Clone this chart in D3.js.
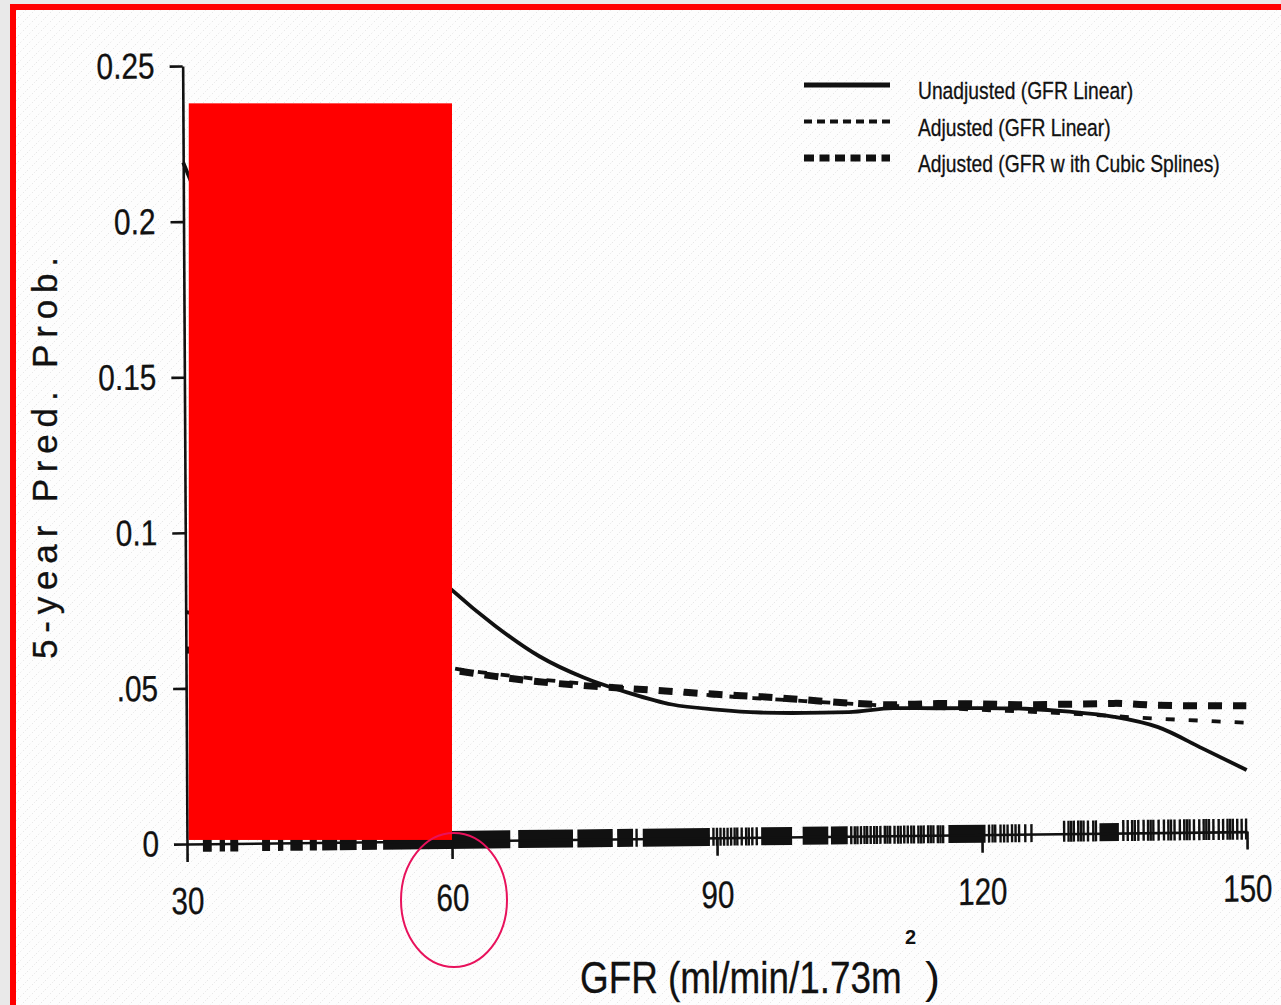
<!doctype html>
<html>
<head>
  <meta charset='utf-8'>
  <style>
    body { margin: 0; background: #e9e9e9; }
    svg { display: block; }
    text { font-family: 'Liberation Sans', Arial, sans-serif; }
  </style>
</head>
<body>
  <svg width='1281' height='1005'></svg>
  <script src='https://d3js.org/d3.v7.min.js'></script>
  <script>
    // values
    var gfr = [30, 35, 40, 45, 50, 55, 60, 65, 70, 75, 80, 85, 90, 95, 100,
               105, 110, 115, 120, 125, 130, 135, 140, 145, 150];
    var unadjusted = [0.219, 0.185, 0.156, 0.132, 0.112, 0.095, 0.081, 0.069, 0.059,
                      0.052, 0.047, 0.043, 0.0412, 0.0401, 0.0398, 0.0399, 0.041,
                      0.0408, 0.0407, 0.0403, 0.0392, 0.0374, 0.0339, 0.0269, 0.0198];
    var adjustedLinear = [0.0746, 0.0713, 0.0683, 0.0655, 0.0628, 0.0603, 0.0556, 0.0535,
                          0.0516, 0.050, 0.0484, 0.047, 0.0457, 0.0446, 0.0436, 0.0426,
                          0.0417, 0.0409, 0.0401, 0.0394, 0.0386, 0.0376, 0.0366, 0.0358, 0.035];
    var adjustedSpline = [0.0623, 0.0618, 0.061, 0.060, 0.0585, 0.0568, 0.0549, 0.0527,
                          0.0508, 0.0494, 0.0483, 0.0472, 0.0461, 0.0452, 0.044, 0.0428,
                          0.0421, 0.0423, 0.042, 0.0416, 0.0416, 0.0417, 0.0409, 0.0406, 0.0404];
    var seriesNames = ['Unadjusted (GFR Linear)', 'Adjusted (GFR Linear)',
                       'Adjusted (GFR w ith Cubic Splines)'];

    var xTicks = [30, 60, 90, 120, 150];
    var yTicks = [0, 0.05, 0.1, 0.15, 0.2, 0.25];
    var yTickLabels = ['0', '.05', '0.1', '0.15', '0.2', '0.25'];

    // rug of observed GFR values: solid runs and single marks
    var rugBlocks = [[31.8, 32.8], [33.7, 34.3], [34.9, 35.8], [38.5, 39.4], [40.3, 40.9],
                     [41.7, 43.1], [43.9, 44.7], [45.3, 47.0], [47.3, 49.2], [49.8, 51.5],
                     [52.2, 66.6], [67.5, 73.7], [74.2, 78.2], [78.7, 80.5], [81.6, 89.2],
                     [95.0, 98.5], [99.7, 102.6], [102.9, 104.8], [116.2, 120.4], [133.3, 135.5]];
    var rugTicks = [80.9, 89.6, 90.0, 90.4, 90.8, 91.2, 91.6, 92.0, 92.3, 92.8, 93.3, 93.6,
                    94.0, 94.5, 105.2, 105.6, 105.9, 106.3, 106.7, 107.0, 107.4, 107.8, 108.1,
                    108.5, 109.0, 109.3, 109.6, 110.1, 110.5, 110.8, 111.2, 111.6, 112.0,
                    112.3, 112.8, 113.1, 113.4, 113.9, 114.2, 114.5, 115.0, 115.3, 115.6,
                    120.8, 121.2, 121.5, 122.1, 122.5, 122.9, 123.4, 123.8, 124.2, 124.9, 125.6,
                    129.3, 129.8, 130.1, 130.4, 130.9, 131.2, 131.5, 132.0, 132.6, 132.9,
                    136.0, 136.5, 137.0, 137.3, 137.7, 138.3, 138.8, 139.1, 139.4, 140.0,
                    140.6, 141.1, 141.4, 141.8, 142.4, 142.9, 143.2, 143.5, 144.0, 144.6,
                    145.1, 145.4, 145.7, 146.2, 146.8, 147.3, 147.8, 148.1, 148.4, 148.9,
                    149.4, 149.9];

    // red box pasted over the low GFR part (gfr range, prob range)
    var maskGfr = [30.2, 60];
    var maskProb = [0.0013, 0.238];

    var svg = d3.select('svg');
    var width = +svg.attr('width');
    var height = +svg.attr('height');

    var x = d3.scaleLinear().domain([30, 150]).range([187, 1247]);
    var y = d3.scaleLinear().domain([0, 0.25]).range([844, 66]);

    // squeeze text horizontally to get the condensed look of the scan
    function narrow(sel, f) {
      sel.each(function() {
        var t = d3.select(this);
        var xa = +t.attr('x') || 0;
        t.attr('x', xa / f).attr('transform', 'scale(' + f + ',1)');
      });
    }

    // page frame
    var defs = svg.append('defs');
    var pat = defs.append('pattern')
      .attr('id', 'paper')
      .attr('width', 9).attr('height', 9)
      .attr('patternUnits', 'userSpaceOnUse');
    pat.append('rect').attr('width', 9).attr('height', 9).attr('fill', '#fdfdfd');
    pat.append('path')
      .attr('d', 'M0,9L9,0')
      .attr('stroke', '#d4d4d4')
      .attr('stroke-width', 0.8)
      .attr('stroke-dasharray', '1,2.5');

    svg.append('rect')
      .attr('x', 16).attr('y', 10)
      .attr('width', width - 16).attr('height', height - 10)
      .attr('fill', 'url(#paper)');
    svg.append('rect')
      .attr('x', 10).attr('y', 4)
      .attr('width', 6).attr('height', height - 4)
      .attr('fill', '#ff0000');
    svg.append('rect')
      .attr('x', 10).attr('y', 4)
      .attr('width', width - 10).attr('height', 6)
      .attr('fill', '#ff0000');

    // the scan is slightly skewed
    var ox = x(30), oy = y(0);
    var g = svg.append('g')
      .attr('transform', 'translate(' + ox + ',' + oy + ') matrix(1,-0.0117,0.0056,1,0,0) translate(' + (-ox) + ',' + (-oy) + ')');

    // rug
    var rug = g.append('g').attr('fill', '#111').attr('stroke', '#111');
    rug.selectAll('rect')
      .data(rugBlocks)
      .enter().append('rect')
        .attr('x', function(d) { return x(d[0]); })
        .attr('width', function(d) { return x(d[1]) - x(d[0]); })
        .attr('y', y(0) - 10)
        .attr('height', 18)
        .attr('stroke', 'none');
    rug.selectAll('line')
      .data(rugTicks)
      .enter().append('line')
        .attr('x1', function(d) { return x(d); })
        .attr('x2', function(d) { return x(d); })
        .attr('y1', function(d) { return y(0) - (d > 128 ? 13 : 10); })
        .attr('y2', y(0) + 8)
        .attr('stroke-width', 2.4);

    // axes
    var yAxis = d3.axisLeft(y)
      .tickValues(yTicks)
      .tickFormat(function(d, i) { return yTickLabels[i]; })
      .tickSize(13)
      .tickSizeOuter(0)
      .tickPadding(15);
    var xAxis = d3.axisBottom(x)
      .tickValues(xTicks)
      .tickFormat(d3.format('d'))
      .tickSize(18)
      .tickSizeOuter(0)
      .tickPadding(25);

    var gy = g.append('g')
      .attr('transform', 'translate(' + x(30) + ',0)')
      .call(yAxis);
    var gx = g.append('g')
      .attr('transform', 'translate(0,' + y(0) + ')')
      .call(xAxis);

    [gx, gy].forEach(function(ax) {
      ax.attr('font-family', null);
      ax.select('.domain').attr('stroke', '#111').attr('stroke-width', 2.6);
      ax.selectAll('.tick line').attr('stroke', '#111').attr('stroke-width', 2.6);
      ax.selectAll('.tick text')
        .attr('fill', '#111')
        .attr('stroke', '#111')
        .attr('stroke-width', 0.3)
        .attr('font-size', 38);
    });
    gy.selectAll('.tick text').attr('font-size', 36);
    narrow(gx.selectAll('.tick text'), 0.78);
    narrow(gy.selectAll('.tick text'), 0.83);

    // curves
    var series = [
      { values: unadjusted, width: 3.8, dash: null },
      { values: adjustedLinear, width: 3.8, dash: '9,14' },
      { values: adjustedSpline, width: 7, dash: '14,11' }
    ];
    g.selectAll('.curve')
      .data(series)
      .enter().append('path')
        .attr('class', 'curve')
        .attr('fill', 'none')
        .attr('stroke', '#111')
        .attr('stroke-width', function(d) { return d.width; })
        .attr('stroke-dasharray', function(d) { return d.dash; })
        .attr('d', function(d) {
          return d3.line()
            .x(function(v, i) { return x(gfr[i]); })
            .y(function(v) { return y(v); })
            .curve(d3.curveMonotoneX)(d.values);
        });

    // red cover box and circled tick label
    svg.append('rect')
      .attr('x', x(maskGfr[0]))
      .attr('width', x(maskGfr[1]) - x(maskGfr[0]))
      .attr('y', y(maskProb[1]))
      .attr('height', y(maskProb[0]) - y(maskProb[1]))
      .attr('fill', '#ff0000');
    svg.append('ellipse')
      .attr('cx', x(60) + 2)
      .attr('cy', y(0) + 56)
      .attr('rx', 53)
      .attr('ry', 67)
      .attr('fill', 'none')
      .attr('stroke', '#e8125c')
      .attr('stroke-width', 2);

    // legend
    var legendStyles = [
      { width: 5, dash: null },
      { width: 4, dash: '8,5' },
      { width: 7, dash: '10,5.5' }
    ];
    var legend = svg.append('g');
    var rows = legend.selectAll('g')
      .data(seriesNames)
      .enter().append('g')
        .attr('transform', function(d, i) { return 'translate(0,' + (85 + i * 36.5) + ')'; });
    rows.append('line')
      .attr('x1', 804).attr('x2', 890)
      .attr('stroke', '#111')
      .attr('stroke-width', function(d, i) { return legendStyles[i].width; })
      .attr('stroke-dasharray', function(d, i) { return legendStyles[i].dash; });
    var legendText = rows.append('text')
      .attr('x', 918)
      .attr('y', 14)
      .attr('font-size', 23.5)
      .attr('fill', '#111')
      .attr('stroke', '#111')
      .attr('stroke-width', 0.3)
      .text(function(d) { return d; });
    narrow(legendText, 0.82);

    // axis titles
    var xt = svg.append('text')
      .attr('x', 580)
      .attr('y', 993)
      .attr('font-size', 45)
      .attr('fill', '#111')
      .attr('stroke', '#111')
      .attr('stroke-width', 0.3)
      .text('GFR (ml/min/1.73m');
    var xtEnd = 580 + xt.node().getComputedTextLength() * 0.82;
    narrow(xt, 0.82);
    svg.append('text')
      .attr('x', xtEnd + 3)
      .attr('y', 944)
      .attr('font-size', 20)
      .attr('font-weight', 'bold')
      .attr('fill', '#111')
      .text('2');
    svg.append('text')
      .attr('x', xtEnd + 23)
      .attr('y', 993)
      .attr('font-size', 45)
      .attr('fill', '#111')
      .text(')');

    svg.append('text')
      .attr('transform', 'translate(57,458) rotate(-90)')
      .attr('text-anchor', 'middle')
      .attr('font-size', 35)
      .attr('fill', '#111')
      .attr('stroke', '#111')
      .attr('stroke-width', 0.3)
      .attr('textLength', 402)
      .attr('lengthAdjust', 'spacing')
      .text('5-year Pred. Prob.');
  </script>
</body>
</html>
